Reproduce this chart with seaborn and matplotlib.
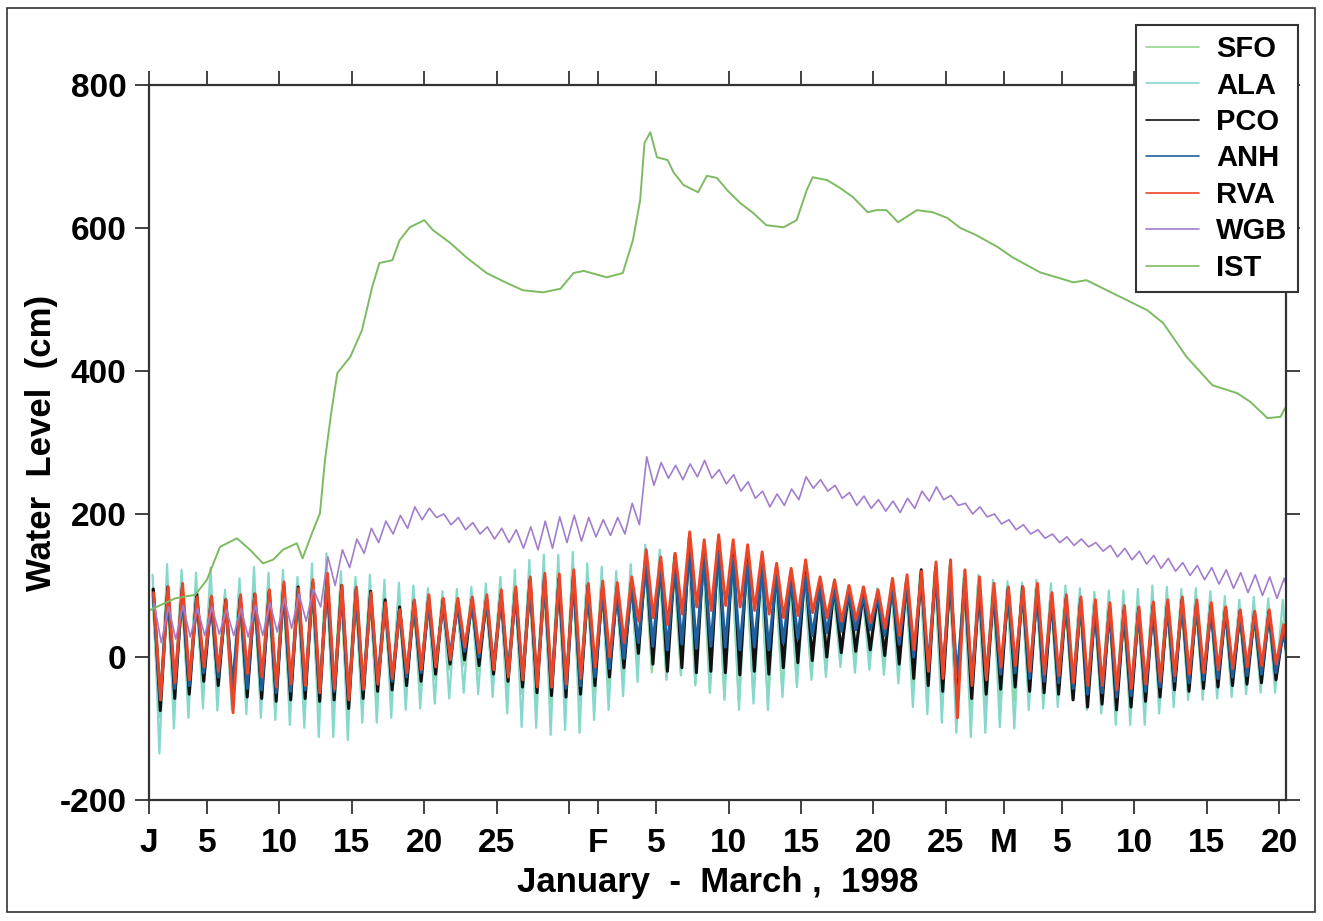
import numpy as np
import matplotlib
matplotlib.use("Agg")
import matplotlib.pyplot as plt
import seaborn as sns
from matplotlib.patches import Rectangle

# ---- data (cm), one high and one low per day, Jan 1 = day 1 ----
days = np.arange(1, 80)

sfo_high = [95, 100, 98, 92, 90, 85, 90, 95, 98, 104,
            100, 106, 115, 104, 98, 95, 86, 80, 82, 84,
            80, 80, 82, 86, 92, 100, 110, 115, 114, 118,
            104, 102, 100, 108, 135, 130, 132, 150, 145, 148,
            140, 135, 128, 118, 112, 115, 104, 98, 92, 90,
            88, 98, 104, 115, 120, 118, 110, 102, 96, 95,
            95, 96, 86, 84, 82, 76, 74, 70, 70, 74,
            78, 80, 78, 74, 70, 66, 64, 64, 50]
sfo_low = [-85, -66, -60, -44, -48, -60, -64, -66, -70, -70,
           -70, -74, -72, -82, -68, -58, -54, -48, -42, -32,
           -18, -12, -20, -32, -44, -52, -60, -64, -66, -62,
           -50, -38, -25, -5, -22, -30, -26, -40, -50, -56,
           -62, -56, -62, -46, -36, -26, -18, -6, -4, 0,
           -8, -18, -40, -55, -62, -70, -72, -68, -64, -62,
           -50, -54, -52, -56, -62, -66, -72, -70, -64, -58,
           -54, -48, -46, -44, -44, -40, -38, -34, -40]

ala_high = [115, 130, 122, 118, 125, 94, 110, 126, 118, 122,
            112, 131, 145, 120, 112, 115, 108, 104, 100, 96,
            92, 95, 98, 103, 112, 122, 136, 143, 143, 147,
            131, 126, 120, 130, 157, 150, 145, 155, 150, 140,
            135, 128, 122, 118, 115, 112, 108, 104, 100, 98,
            96, 100, 108, 118, 125, 128, 120, 115, 108, 106,
            104, 108, 103, 100, 96, 91, 93, 93, 95, 100,
            98, 95, 96, 92, 85, 80, 84, 82, 80]
ala_low = [-135, -100, -85, -72, -75, -74, -80, -85, -88, -95,
           -99, -112, -112, -116, -92, -92, -85, -74, -72, -65,
           -58, -50, -52, -56, -79, -98, -99, -109, -102, -106,
           -88, -74, -55, -35, -14, -32, -25, -38, -50, -60,
           -74, -65, -74, -56, -42, -32, -28, -14, -22, -18,
           -25, -37, -70, -80, -92, -106, -112, -106, -98, -100,
           -74, -72, -70, -60, -74, -79, -95, -95, -95, -79,
           -70, -60, -60, -58, -56, -52, -50, -50, -50]

pco_high = [95, 98, 96, 88, 82, 80, 84, 88, 92, 100,
            98, 104, 112, 100, 95, 92, 80, 70, 78, 82,
            80, 78, 80, 82, 88, 94, 108, 112, 110, 116,
            100, 98, 96, 105, 140, 135, 140, 168, 155, 160,
            150, 145, 138, 125, 118, 125, 106, 100, 94, 90,
            88, 104, 108, 122, 126, 115, 110, 98, 94, 96,
            98, 96, 84, 82, 80, 72, 70, 66, 68, 72,
            76, 80, 76, 72, 68, 64, 62, 64, 40]
pco_low = [-75, -58, -52, -34, -40, -52, -56, -58, -62, -60,
           -58, -62, -60, -72, -58, -48, -46, -40, -34, -24,
           -10, -4, -12, -24, -34, -42, -50, -54, -56, -52,
           -40, -28, -15, 5, -10, -20, -15, -22, -20, -22,
           -25, -20, -24, -15, -8, -5, 0, 6, 8, 10,
           2, -10, -30, -40, -48, -55, -58, -52, -45, -42,
           -48, -50, -52, -60, -70, -66, -74, -70, -62, -56,
           -46, -48, -44, -42, -40, -38, -36, -32, -34]

anh_high = [88, 92, 90, 82, 78, 75, 80, 82, 86, 94,
            92, 98, 105, 94, 90, 86, 74, 66, 72, 76,
            74, 72, 75, 78, 82, 88, 100, 105, 104, 108,
            95, 92, 90, 98, 130, 125, 130, 150, 140, 145,
            138, 132, 126, 115, 110, 114, 98, 94, 88, 85,
            84, 96, 100, 112, 118, 108, 102, 92, 88, 90,
            92, 90, 80, 78, 76, 68, 66, 62, 64, 68,
            72, 75, 72, 68, 64, 60, 58, 60, 36]
anh_low = [-60, -44, -40, -22, -28, -40, -44, -46, -50, -48,
           -46, -50, -48, -58, -46, -36, -34, -28, -22, -12,
           2, 8, 0, -12, -22, -30, -38, -42, -44, -40,
           -28, -16, -2, 20, 15, 10, 18, 12, 15, 14,
           10, 14, 10, 20, 26, 30, 34, 36, 38, 38,
           30, 18, 0, -12, -20, -28, -32, -28, -24, -22,
           -30, -34, -36, -44, -52, -50, -56, -54, -48, -42,
           -34, -36, -32, -30, -28, -26, -24, -22, -24]

rva_high = [90, 98, 103, 84, 85, 80, 87, 88, 94, 105,
            96, 108, 117, 100, 98, 90, 76, 66, 80, 87,
            82, 82, 84, 87, 94, 98, 112, 117, 116, 122,
            103, 106, 104, 112, 150, 140, 145, 175, 164, 171,
            164, 157, 147, 131, 124, 136, 112, 108, 100, 98,
            94, 110, 115, 120, 133, 136, 122, 112, 103, 98,
            98, 103, 90, 87, 84, 80, 76, 72, 70, 77,
            80, 84, 80, 76, 70, 66, 64, 66, 45]
rva_low = [-60, -36, -32, -14, -20, -78, -23, -28, -42, -38,
           -40, -50, -45, -60, -45, -38, -30, -22, -18, -14,
           -4, 14, 6, -18, -28, -32, -42, -42, -38, -30,
           -14, 0, 20, 50, 55, 45, 60, 70, 65, 72,
           70, 65, 60, 55, 58, 62, 55, 50, 52, 48,
           40, 30, 10, -20, -30, -85, -40, -32, -14, -12,
           -20, -24, -26, -36, -40, -40, -46, -44, -38, -34,
           -26, -24, -22, -18, -16, -14, -12, -10, -14]

wgb_high = [75, 70, 72, 68, 70, 66, 68, 72, 76, 82,
            88, 95, 140, 150, 165, 180, 190, 198, 210, 208,
            200, 195, 188, 182, 180, 178, 182, 190, 196, 198,
            195, 192, 195, 215, 280, 272, 268, 270, 275, 262,
            255, 245, 232, 228, 235, 252, 248, 240, 230, 225,
            220, 218, 222, 232, 238, 226, 215, 210, 200, 192,
            185, 178, 172, 168, 165, 160, 156, 152, 148, 142,
            138, 132, 128, 125, 122, 118, 115, 112, 110]
wgb_low = [20, 25, 28, 30, 32, 30, 28, 30, 35, 40,
           50, 70, 100, 125, 145, 160, 172, 180, 192, 195,
           185, 178, 172, 165, 160, 152, 150, 152, 160, 162,
           168, 170, 172, 185, 240, 250, 248, 252, 250, 242,
           232, 222, 210, 212, 220, 236, 232, 222, 212, 208,
           204, 202, 208, 218, 220, 212, 200, 196, 186, 178,
           172, 166, 160, 156, 154, 148, 140, 136, 130, 124,
           120, 114, 108, 102, 96, 90, 86, 82, 78]

# smooth station: (day, cm) points
ist_day = [1.0, 2.8, 4.2, 5.0, 5.9, 7.07, 7.97, 8.87, 9.56, 10.25, 11.2, 11.6,
           12.25, 12.8, 13.15, 13.6, 14.0, 14.9, 15.7, 16.4, 16.9, 17.8, 18.3,
           19.0, 20.0, 20.6, 21.8, 22.9, 24.3, 25.7, 26.8, 28.2, 29.4, 30.3,
           31.0, 32.6, 33.7, 34.4, 34.9, 35.2, 35.6, 36.06, 36.8, 37.2, 37.9,
           38.9, 39.5, 40.2, 40.9, 41.8, 42.7, 43.6, 44.8, 45.7, 46.4, 46.8,
           47.8, 48.7, 49.6, 50.6, 51.2, 51.9, 52.7, 54.0, 55.1, 56.1, 57.0,
           58.1, 59.6, 60.6, 62.5, 64.8, 65.7, 67.5, 69.9, 71.0, 72.6, 74.4,
           76.1, 77.0, 78.2, 79.1, 79.4]
ist_cm = [65, 82, 87, 108, 154, 166, 150, 131, 136, 150, 159, 138,
          173, 201, 276, 345, 397, 420, 457, 517, 551, 555, 583,
          601, 611, 597, 579, 559, 537, 523, 513, 510, 515, 537,
          540, 531, 537, 583, 639, 719, 734, 699, 695, 678, 660,
          650, 673, 670, 653, 635, 621, 604, 601, 611, 653, 671,
          667, 656, 643, 622, 625, 625, 608, 625, 622, 614, 600,
          590, 573, 559, 538, 524, 527, 509, 485, 467, 420, 380,
          369, 357, 334, 336, 348]

stations = ["SFO", "ALA", "PCO", "ANH", "RVA", "WGB"]
highs = [sfo_high, ala_high, pco_high, anh_high, rva_high, wgb_high]
lows = [sfo_low, ala_low, pco_low, anh_low, rva_low, wgb_low]

tick_days = [1, 5, 10, 15, 20, 25, 30, 32, 36, 41, 46, 51, 56, 60, 64, 69, 74, 79]
tick_labels = ["J", "5", "10", "15", "20", "25", "", "F", "5", "10", "15",
               "20", "25", "M", "5", "10", "15", "20"]

# ---- style ----
colors = {"SFO": "#93d68c", "ALA": "#86d8cb", "PCO": "#111111", "ANH": "#1f5f9e",
          "RVA": "#ec4528", "WGB": "#a27dcc", "IST": "#7cbb62"}
widths = {"SFO": 1.4, "ALA": 1.6, "PCO": 2.2, "ANH": 2.2, "RVA": 2.1, "WGB": 1.2}
# time of day of the high and the low for each station
phase = {"SFO": (0.20, 0.70), "ALA": (0.25, 0.72), "PCO": (0.30, 0.78),
         "ANH": (0.30, 0.78), "RVA": (0.32, 0.80), "WGB": (0.35, 0.85)}

sns.set_style("ticks")
plt.rcParams["font.family"] = ["Liberation Sans", "DejaVu Sans"]
plt.rcParams["font.weight"] = "bold"
plt.rcParams["axes.unicode_minus"] = False
plt.rcParams["text.color"] = "black"
plt.rcParams["axes.labelcolor"] = "black"

fig = plt.figure(figsize=(13.23, 9.21), dpi=100)
ax = fig.add_axes([0.1126, 0.1314, 0.8594, 0.7763])

for name, hi, lo in zip(stations, highs, lows):
    t = np.empty(2 * len(days))
    v = np.empty(2 * len(days))
    t[0::2] = days + phase[name][0]
    t[1::2] = days + phase[name][1]
    v[0::2] = hi
    v[1::2] = lo
    sns.lineplot(x=t, y=v, color=colors[name], lw=widths[name], label=name,
                 estimator=None, sort=False, ax=ax)

sns.lineplot(x=ist_day, y=ist_cm, color=colors["IST"], lw=1.4, label="IST",
             estimator=None, sort=False, ax=ax)

ax.set_xlim(1.0, 79.47)
ax.set_ylim(-200, 800)
ax.set_yticks([-200, 0, 200, 400, 600, 800])
ax.set_xticks(tick_days)
ax.set_xticklabels(tick_labels)
ax.tick_params(axis="both", direction="out", length=10, width=1.3,
               labelsize=24, colors="#333333", labelcolor="black",
               top=True, right=True)
ax.tick_params(axis="x", pad=10)
ax.tick_params(axis="y", pad=6)
for s in ax.spines.values():
    s.set_linewidth(1.6)
    s.set_color("#333333")

ax.set_xlabel("January  -  March ,  1998", fontsize=25, fontweight="bold", labelpad=5)
ax.set_ylabel("Water  Level  (cm)", fontsize=25, fontweight="bold", labelpad=1)

leg = ax.legend(loc="upper right", bbox_to_anchor=(0.981, 0.973),
                bbox_transform=fig.transFigure, fancybox=False, framealpha=1,
                edgecolor="#333333", handlelength=1.8, handletextpad=0.6,
                labelspacing=0.29, borderpad=0.35, borderaxespad=0,
                prop={"size": 21, "weight": "bold"})
leg.get_frame().set_linewidth(1.5)
for line in leg.get_lines():
    line.set_linewidth(1.2)

fig.patches.append(Rectangle((0.0053, 0.0098), 0.989, 0.9816, transform=fig.transFigure,
                             fill=False, edgecolor="#333333", lw=1.2))

fig.savefig("out.png", dpi=100)
